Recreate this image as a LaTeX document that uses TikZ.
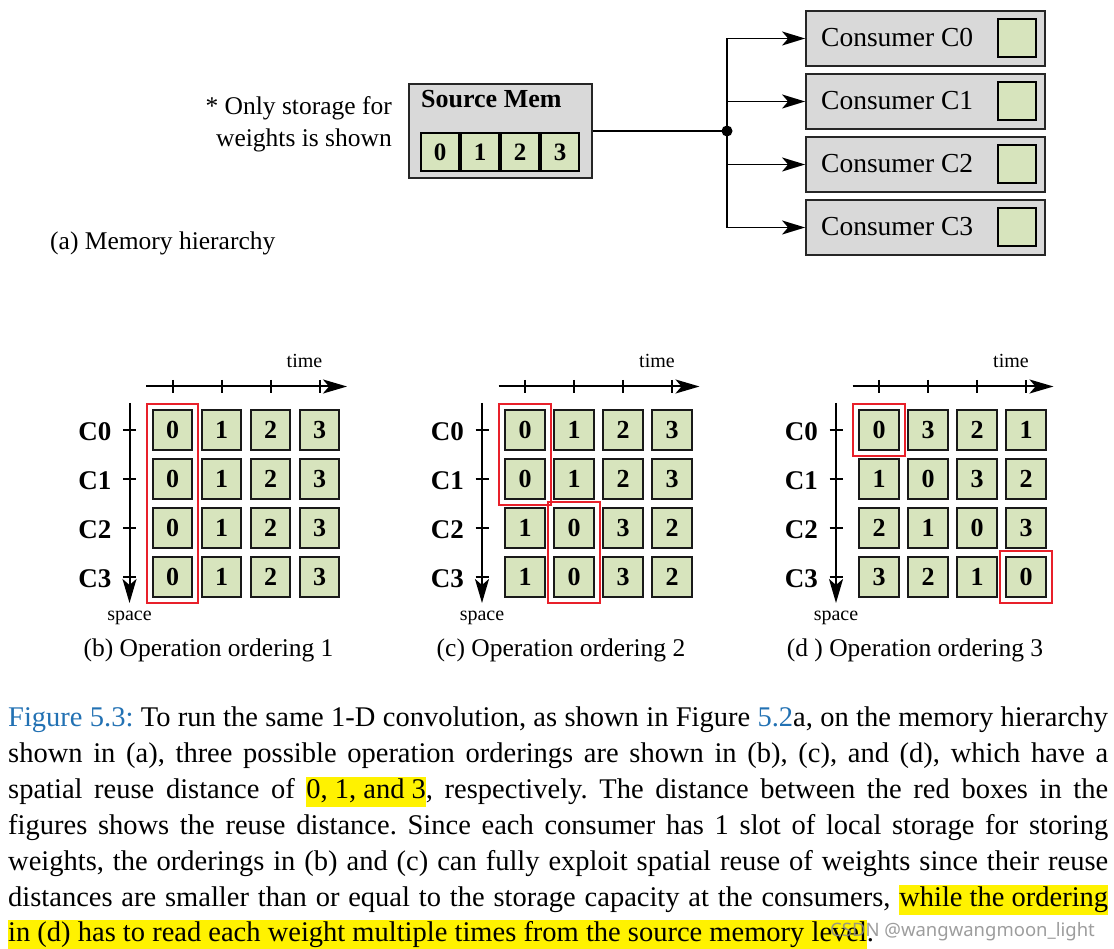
\documentclass[tikz,border=0pt]{standalone}
\usepackage{fontspec}
\setmainfont{Liberation Serif}
\newfontfamily\wmfont{Noto Sans}
\usetikzlibrary{arrows.meta,fit}
\frenchspacing
\definecolor{boxgray}{RGB}{217,217,217}
\definecolor{cellgreen}{RGB}{215,228,189}
\definecolor{redline}{RGB}{232,32,42}
\definecolor{figblue}{RGB}{34,113,179}
\definecolor{hly}{RGB}{255,242,0}
\newcommand\hlbox[1]{{\setlength{\fboxsep}{0pt}\colorbox{hly}{\rule[-9pt]{0pt}{30.5pt}#1}}}
\newcommand\fs[1]{\fontsize{#1}{#1}\selectfont}
\newcommand\gridrow[7]{%
  \foreach \v [count=\c from 0] in {#4,#5,#6,#7} {
    \node[cell] (#1-#3-\c) at ({#2+49*\c},{430+49*#3}) {\v};
  }}
\newcommand\panelaxes[3]{%
  \coordinate (#1-t0) at ({#2-26.5},386.5);
  \coordinate (#1-t1) at ({#2+174.5},386.5);
  \draw[axis] (#1-t0) -- (#1-t1);
  \foreach \c in {0,...,3} {\draw[tick] ({#2+49*\c},380) -- ({#2+49*\c},393);}
  \coordinate (#1-s0) at ({#2-43},403);
  \coordinate (#1-s1) at ({#2-43},603);
  \draw[axis] (#1-s0) -- (#1-s1);
  \foreach \r in {0,...,3} {
    \draw[tick] ({#2-49.5},{430+49*\r}) -- ({#2-36.5},{430+49*\r});
    \node[clbl] (#1-l\r) at ({#2-61},{440+49*\r}) {C\r};
  }
  \node[small] (#1-time) at ({#2+132},368) {time};
  \node[small] (#1-space) at ({#2-43},620) {space};
  \node[lbl, anchor=base] (#1-cap) at ({#2+36},656) {#3};
}
\begin{document}
\begin{tikzpicture}[x=1pt,y=-1pt,
  box/.style={draw=black!85, line width=1.8pt, fill=boxgray, inner sep=0pt},
  slot/.style={draw=black, line width=2pt, fill=cellgreen, minimum size=38pt, inner sep=0pt, font=\fs{25}\bfseries},
  cell/.style={draw=black!90, line width=2.4pt, fill=cellgreen, minimum size=39.5pt, inner sep=0pt, font=\fs{26}\bfseries},
  redbox/.style={draw=redline, line width=2pt, inner sep=4.75pt},
  conn/.style={draw=black, line width=1.8pt},
  tip/.style={-{Stealth[length=23pt,width=14pt,inset=6pt]}},
  axis/.style={draw=black, line width=2pt, -{Stealth[length=24pt,width=14pt,inset=6pt]}},
  tick/.style={draw=black, line width=2pt},
  lbl/.style={font=\fs{25.5}, inner sep=0pt},
  clbl/.style={font=\fs{27}\bfseries, inner sep=0pt, anchor=base east},
  small/.style={font=\fs{20}, inner sep=0pt, anchor=base},
  capline/.style={font=\fs{28.5}, inner sep=0pt, anchor=base west},
]
\useasboundingbox (0,0) rectangle (1114,949);

% ---------- (a) memory hierarchy ----------
\node[lbl, anchor=base east] (note1) at (392,115) {* Only storage for};
\node[lbl, anchor=base east] (note2) at (392,147) {weights is shown};
\node[box, minimum width=183pt, minimum height=94pt] (src) at (500.5,131) {};
\node[font=\fs{26}\bfseries, inner sep=0pt, anchor=base west] (srclbl) at (421,108) {Source Mem};
\foreach \i in {0,...,3} {\node[slot, minimum size=38pt] (sm\i) at ({440+40*\i},152) {\i};}

\foreach \k/\y in {0/38.5,1/101.5,2/164.5,3/227.5} {
  \node[box, minimum width=239pt, minimum height=55pt] (c\k) at (925.5,\y) {};
  \node[font=\fs{27.5}, inner sep=0pt, anchor=base west] (ct\k) at (821,{\y+8}) {Consumer C\k};
  \node[slot] (cs\k) at (1017,\y) {};
}
\coordinate (J) at (727,131);
\draw[conn] (src.east |- J) -- (J);
\foreach \k in {0,...,3} {\draw[conn, tip] (J) |- (c\k.west);}
\fill (J) circle (5.5pt);
\node[lbl, anchor=base west] (alabel) at (50,250) {(a) Memory hierarchy};

% ---------- (b) ----------
\panelaxes{b}{172.5}{(b) Operation ordering 1}
\gridrow{b}{172.5}{0}{0}{1}{2}{3}
\gridrow{b}{172.5}{1}{0}{1}{2}{3}
\gridrow{b}{172.5}{2}{0}{1}{2}{3}
\gridrow{b}{172.5}{3}{0}{1}{2}{3}
\node[redbox, fit=(b-0-0)(b-3-0)] (bred) {};

% ---------- (c) ----------
\panelaxes{c}{525}{(c) Operation ordering 2}
\gridrow{c}{525}{0}{0}{1}{2}{3}
\gridrow{c}{525}{1}{0}{1}{2}{3}
\gridrow{c}{525}{2}{1}{0}{3}{2}
\gridrow{c}{525}{3}{1}{0}{3}{2}
\node[redbox, fit=(c-0-0)(c-1-0)] (cred1) {};
\node[redbox, fit=(c-2-1)(c-3-1)] (cred2) {};

% ---------- (d) ----------
\panelaxes{d}{879}{(d ) Operation ordering 3}
\gridrow{d}{879}{0}{0}{3}{2}{1}
\gridrow{d}{879}{1}{1}{0}{3}{2}
\gridrow{d}{879}{2}{2}{1}{0}{3}
\gridrow{d}{879}{3}{3}{2}{1}{0}
\node[redbox, fit=(d-0-0)] (dred1) {};
\node[redbox, fit=(d-3-3)] (dred2) {};

% ---------- caption ----------
\node[capline] (cap1) at (8,726) {\makebox[1100pt][s]{\textcolor{figblue}{Figure 5.3:} To run the same 1-D convolution, as shown in Figure \textcolor{figblue}{5.2}a, on the memory hierarchy}};
\node[capline] (cap2) at (8,762) {\makebox[1100pt][s]{shown in (a), three possible operation orderings are shown in (b), (c), and (d), which have a}};
\node[capline] (cap3) at (8,798) {\makebox[1100pt][s]{spatial reuse distance of \hlbox{0, 1, and 3}, respectively. The distance between the red boxes in the}};
\node[capline] (cap4) at (8,834) {\makebox[1100pt][s]{figures shows the reuse distance. Since each consumer has 1 slot of local storage for storing}};
\node[capline] (cap5) at (8,870) {\makebox[1100pt][s]{weights, the orderings in (b) and (c) can fully exploit spatial reuse of weights since their reuse}};
\node[capline] (cap6) at (8,906) {\makebox[1100pt][s]{distances are smaller than or equal to the storage capacity at the consumers, \hlbox{while the ordering}}};
\node[capline] (cap7) at (8,941) {\hlbox{in (d) has to read each weight multiple times from the source memory level}.};
\node[font=\wmfont\fs{18.5}, text=black!45, opacity=0.85, inner sep=0pt, anchor=base west] (wm) at (830,936) {CSDN @wangwangmoon\_light};
\end{tikzpicture}
\end{document}
